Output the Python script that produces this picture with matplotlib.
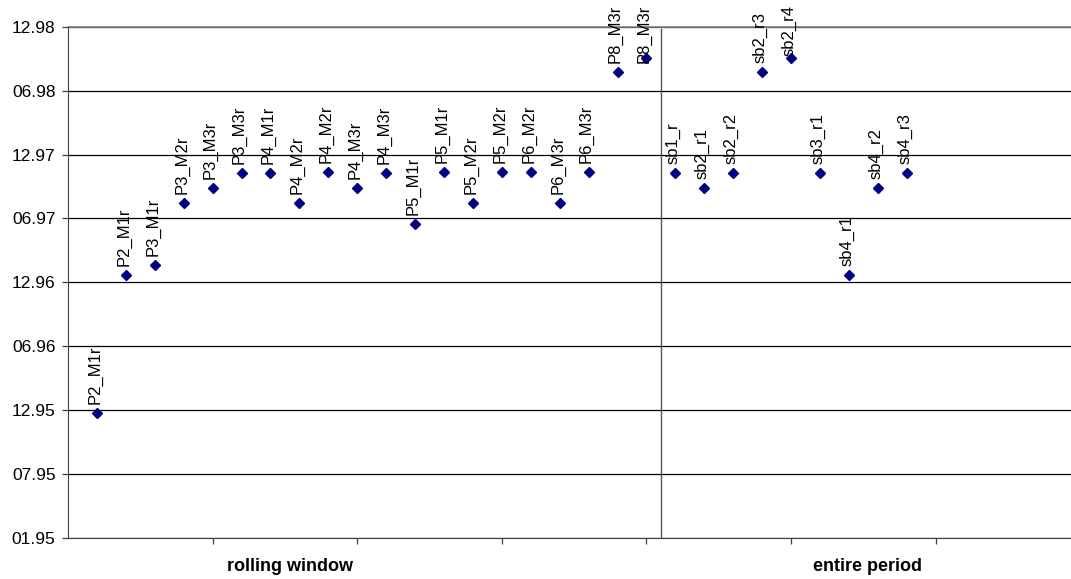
import pandas as pd
import matplotlib
matplotlib.use("Agg")
import matplotlib.pyplot as plt
import matplotlib.dates as mdates
import matplotlib.transforms as mtrans

plt.rcParams['font.family'] = ['Liberation Sans', 'DejaVu Sans']

# rolling window estimates
rolling_labels = ['P2_M1r', 'P2_M1r', 'P3_M1r', 'P3_M2r', 'P3_M3r', 'P3_M3r', 'P4_M1r',
                  'P4_M2r', 'P4_M2r', 'P4_M3r', 'P4_M3r', 'P5_M1r', 'P5_M1r', 'P5_M2r',
                  'P5_M2r', 'P6_M2r', 'P6_M3r', 'P6_M3r', 'P8_M3r', 'P8_M3r']
rolling_dates = ['1995-12-22', '1997-01-20', '1997-02-16', '1997-08-12', '1997-09-25',
                 '1997-11-05', '1997-11-05', '1997-08-12', '1997-11-07', '1997-09-25',
                 '1997-11-05', '1997-06-14', '1997-11-07', '1997-08-12', '1997-11-07',
                 '1997-11-07', '1997-08-12', '1997-11-07', '1998-08-20', '1998-09-30']

# entire period estimates
entire_labels = ['sb1_r', 'sb2_r1', 'sb2_r2', 'sb2_r3', 'sb2_r4', 'sb3_r1',
                 'sb4_r1', 'sb4_r2', 'sb4_r3']
entire_dates = ['1997-11-05', '1997-09-25', '1997-11-05', '1998-08-20', '1998-09-30',
                '1997-11-05', '1997-01-20', '1997-09-25', '1997-11-05']

group_names = ['rolling window', 'entire period']

labels = rolling_labels + entire_labels
dates = pd.to_datetime(rolling_dates + entire_dates)
xs = list(range(1, len(labels) + 1))
split = len(rolling_labels) + 0.5

fig = plt.figure(figsize=(10.71, 5.79), dpi=100)
ax = fig.add_axes([0.0635, 0.0708, 0.9365, 0.8831])

ax.plot(xs, dates, linestyle='none', marker='D', markersize=5,
        color='#000080', zorder=3)

texts = []
for x, d, lab in zip(xs, dates, labels):
    t = ax.annotate(lab, (x, d), xytext=(-1.5, 6.5), textcoords='offset points',
                    rotation=90, ha='center', va='bottom', fontsize=12,
                    color='black', annotation_clip=False, zorder=4)
    texts.append(t)

# y axis: half-year steps
yticks = pd.date_range('1995-01-01', periods=9, freq='182D')
ax.set_ylim(yticks[0], yticks[-1])
ax.set_yticks(yticks)
ax.yaxis.set_major_formatter(mdates.DateFormatter('%m.%y'))
ax.grid(axis='y', color='black', linewidth=0.9)
ax.set_axisbelow(True)

ax.set_xlim(0, 34.68)
ax.set_xticks(range(5, 35, 5))
ax.set_xticklabels([])

ax.axvline(split, ymax=0.995, color='#555555', linewidth=1.0)

for side in ['top', 'right']:
    ax.spines[side].set_visible(False)
ax.spines['left'].set_color('#404040')
ax.spines['bottom'].set_color('#404040')
ax.axhline(yticks[-1], color='#808080', linewidth=1.2, clip_on=False)
ax.tick_params(axis='both', direction='out', length=4, width=0.9, color='#404040')
ax.tick_params(axis='y', labelsize=12.5, pad=5)

tr = mtrans.blended_transform_factory(ax.transData, ax.transAxes)
ax.text(7.66, -0.055, group_names[0], transform=tr, ha='center', va='center',
        fontsize=13, fontweight='bold')
ax.text(27.63, -0.055, group_names[1], transform=tr, ha='center', va='center',
        fontsize=13, fontweight='bold')

# push labels that run off the top back inside the figure
fig.canvas.draw()
renderer = fig.canvas.get_renderer()
top_px = fig.bbox.height - 5
for t in texts:
    bb = t.get_window_extent(renderer)
    if bb.y1 > top_px:
        over = (bb.y1 - top_px) * 72.0 / fig.dpi
        dx, dy = t.xyann
        t.xyann = (dx, dy - over)

fig.savefig('out.png', dpi=100)
